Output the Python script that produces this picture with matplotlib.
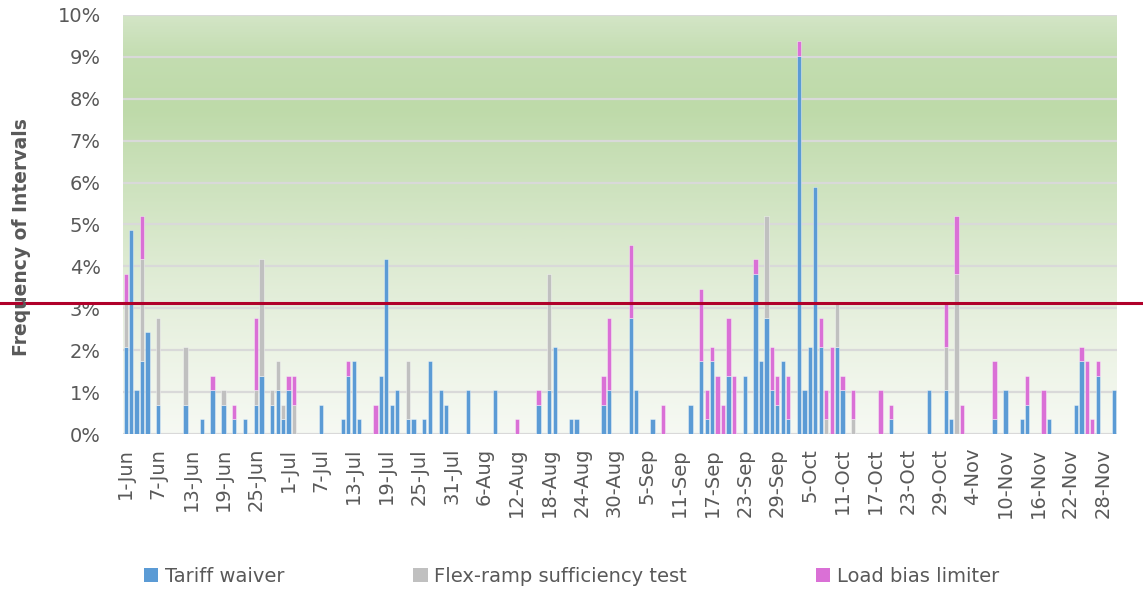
import numpy as np
import matplotlib
matplotlib.use("Agg")
import matplotlib.pyplot as plt
from matplotlib import transforms
from matplotlib.colors import LinearSegmentedColormap
from matplotlib.patches import Patch
import datetime as dt

# Days with at least one flagged 5-minute interval (288 intervals per day)
event_dates = [
    "1-Jun", "2-Jun", "3-Jun", "4-Jun", "5-Jun", "7-Jun", "12-Jun", "15-Jun", "17-Jun", "19-Jun",
    "21-Jun", "23-Jun", "25-Jun", "26-Jun", "28-Jun", "29-Jun", "30-Jun", "1-Jul", "2-Jul", "7-Jul",
    "11-Jul", "12-Jul", "13-Jul", "14-Jul", "17-Jul", "18-Jul", "19-Jul", "20-Jul", "21-Jul", "23-Jul",
    "24-Jul", "26-Jul", "27-Jul", "29-Jul", "30-Jul", "3-Aug", "8-Aug", "12-Aug", "16-Aug", "18-Aug",
    "19-Aug", "22-Aug", "23-Aug", "28-Aug", "29-Aug", "2-Sep", "3-Sep", "6-Sep", "8-Sep", "13-Sep",
    "15-Sep", "16-Sep", "17-Sep", "18-Sep", "19-Sep", "20-Sep", "21-Sep", "23-Sep", "25-Sep", "26-Sep",
    "27-Sep", "28-Sep", "29-Sep", "30-Sep", "1-Oct", "3-Oct", "4-Oct", "5-Oct", "6-Oct", "7-Oct",
    "8-Oct", "9-Oct", "10-Oct", "11-Oct", "13-Oct", "18-Oct", "20-Oct", "27-Oct", "30-Oct", "31-Oct",
    "1-Nov", "2-Nov", "8-Nov", "10-Nov", "13-Nov", "14-Nov", "17-Nov", "18-Nov", "23-Nov", "24-Nov",
    "25-Nov", "26-Nov", "27-Nov", "30-Nov",
]
tariff_waiver = [
    6, 14, 3, 5, 7, 2, 2, 1, 3, 2,
    1, 1, 2, 4, 2, 3, 1, 3, 0, 2,
    1, 4, 5, 1, 0, 4, 12, 2, 3, 1,
    1, 1, 5, 3, 2, 3, 3, 0, 2, 3,
    6, 1, 1, 2, 3, 8, 3, 1, 0, 2,
    5, 1, 5, 0, 0, 4, 0, 4, 11, 5,
    8, 3, 2, 5, 1, 26, 3, 6, 17, 6,
    0, 0, 6, 3, 0, 0, 1, 3, 3, 1,
    0, 0, 1, 3, 1, 2, 0, 1, 2, 5,
    0, 0, 4, 3,
]
flex_ramp_test = [
    3, 0, 0, 7, 0, 6, 4, 0, 0, 1,
    0, 0, 1, 8, 1, 2, 1, 0, 2, 0,
    0, 0, 0, 0, 0, 0, 0, 0, 0, 4,
    0, 0, 0, 0, 0, 0, 0, 0, 0, 8,
    0, 0, 0, 0, 0, 0, 0, 0, 0, 0,
    0, 0, 0, 0, 0, 0, 0, 0, 0, 0,
    7, 0, 0, 0, 0, 0, 0, 0, 0, 0,
    1, 0, 3, 0, 1, 0, 0, 0, 3, 0,
    11, 0, 0, 0, 0, 0, 0, 0, 0, 0,
    0, 0, 0, 0,
]
load_bias_limiter = [
    2, 0, 0, 3, 0, 0, 0, 0, 1, 0,
    1, 0, 5, 0, 0, 0, 0, 1, 2, 0,
    0, 1, 0, 0, 2, 0, 0, 0, 0, 0,
    0, 0, 0, 0, 0, 0, 0, 1, 1, 0,
    0, 0, 0, 2, 5, 5, 0, 0, 2, 0,
    5, 2, 1, 4, 2, 4, 4, 0, 1, 0,
    0, 3, 2, 0, 3, 1, 0, 0, 0, 2,
    2, 6, 0, 1, 2, 3, 1, 0, 3, 0,
    4, 2, 4, 0, 0, 2, 3, 0, 0, 1,
    5, 1, 1, 0,
]
threshold_pct = 3.125
intervals_per_day = 288
series_names = ["Tariff waiver", "Flex-ramp sufficiency test", "Load bias limiter"]
series_colors = ["#5B9BD5", "#C0C0C0", "#DA70D6"]

# Full daily calendar, 1-Jun through 30-Nov
start = dt.date(2023, 6, 1)
days = [start + dt.timedelta(days=k) for k in range(183)]
day_labels = [f"{d.day}-{d.strftime('%b')}" for d in days]
index_of = {lab: k for k, lab in enumerate(day_labels)}

stacks = []
for vals in (tariff_waiver, flex_ramp_test, load_bias_limiter):
    full = np.zeros(len(days))
    for lab, v in zip(event_dates, vals):
        full[index_of[lab]] = v / intervals_per_day * 100.0
    stacks.append(full)

W, H = 1143, 596
fig = plt.figure(figsize=(W / 100, H / 100), dpi=100)
ax = fig.add_axes([123 / W, 1 - 434 / H, (1116.7 - 123) / W, (434 - 15) / H])

plt.rcParams["font.family"] = ["DejaVu Sans"]
text_color = "#595959"

# Plot-area gradient fill
stops = [
    (0.00, (246, 249, 243)),
    (0.20, (236, 243, 229)),
    (0.40, (222, 235, 211)),
    (0.60, (205, 226, 189)),
    (0.78, (190, 218, 169)),
    (0.90, (195, 221, 176)),
    (1.00, (211, 229, 198)),
]
cmap = LinearSegmentedColormap.from_list(
    "bg", [(p, tuple(c / 255 for c in rgb)) for p, rgb in stops])
grad = np.linspace(1, 0, 400).reshape(-1, 1)
ax.imshow(grad, cmap=cmap, aspect="auto", extent=[0, 1, 0, 1],
          transform=ax.transAxes, zorder=0, vmin=0, vmax=1)

x = np.arange(len(days))
bottom = np.zeros(len(days))
for vals, name, col in zip(stacks, series_names, series_colors):
    mask = vals > 0
    ax.bar(x[mask], vals[mask], bottom=bottom[mask], width=0.78, color=col,
           edgecolor=(1, 1, 1, 0.45), linewidth=0.6, zorder=3, label=name)
    bottom += vals

ax.set_xlim(-0.5, len(days) - 0.5)
ax.set_ylim(0, 10)
ax.set_yticks(np.arange(0, 11, 1))
ax.set_yticklabels([f"{v}%" for v in range(0, 11)])
for v in range(0, 11):
    ax.axhline(v, color="#D9D9D9", lw=1.6, zorder=1)

tick_idx = list(range(0, len(days), 6))
ax.set_xticks(tick_idx)
ax.set_xticklabels([day_labels[k] for k in tick_idx], rotation=90)
ax.tick_params(axis="both", length=0, labelsize=14, colors=text_color)
ax.tick_params(axis="y", pad=16)
ax.tick_params(axis="x", pad=10)
for s in ax.spines.values():
    s.set_visible(False)

fig.text(22 / W, 1 - 237 / H, "Frequency of Intervals", rotation=90,
         ha="center", va="center", fontsize=13.5, fontweight="bold",
         color=text_color)

# Threshold line spanning the full figure width
trans = transforms.blended_transform_factory(fig.transFigure, ax.transData)
ax.plot([0, 1], [threshold_pct, threshold_pct], transform=trans,
        color="#B0002A", lw=2.2, clip_on=False, zorder=6)

handles = [Patch(facecolor=c, edgecolor="none") for c in series_colors]
fig.legend(handles, series_names, loc="center", bbox_to_anchor=(0.5, 1 - 576 / H),
           ncol=3, frameon=False, fontsize=14, labelcolor=text_color,
           handlelength=0.75, handleheight=0.75, handletextpad=0.35,
           columnspacing=6.6)

fig.savefig("out.png", dpi=100)
